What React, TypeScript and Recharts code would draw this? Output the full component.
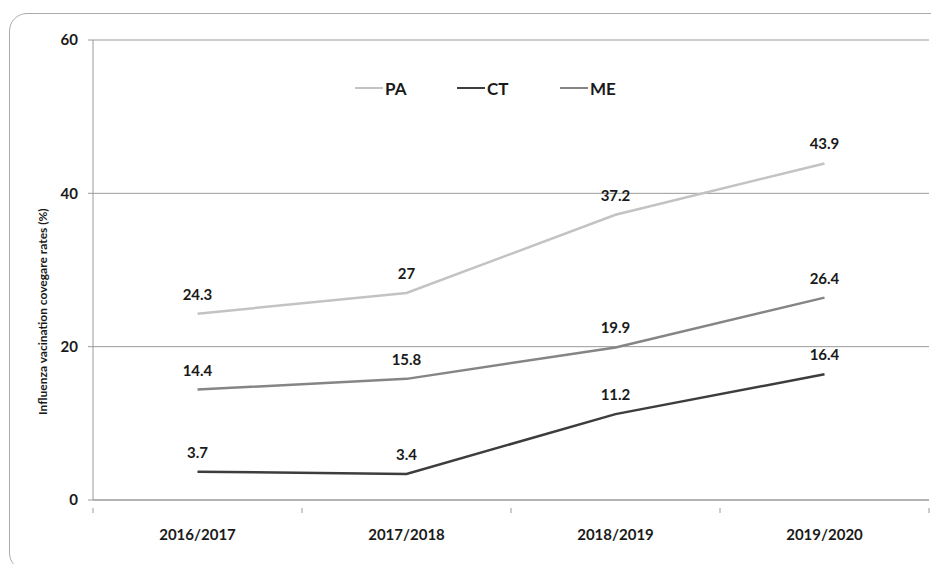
import React from 'react';
import {
  LineChart,
  Line,
  XAxis,
  YAxis,
  CartesianGrid,
  LabelList
} from 'recharts';

const seasons = ['2016/2017', '2017/2018', '2018/2019', '2019/2020'];
const paValues = [24.3, 27, 37.2, 43.9];
const ctValues = [3.7, 3.4, 11.2, 16.4];
const meValues = [14.4, 15.8, 19.9, 26.4];
const yTicks = [0, 20, 40, 60];
const seriesKeys = ['PA', 'CT', 'ME'] as const;

const COLORS = {
  PA: '#c3c3c3',
  CT: '#3d3d3d',
  ME: '#858585'
};

const FONT = 'Lato, "Open Sans", sans-serif';
const AXIS_GRAY = '#9a9a9a';

const chartData = seasons.map((season, i) => ({
  season,
  PA: paValues[i],
  CT: ctValues[i],
  ME: meValues[i]
}));

const SeasonTick = (props: any) => {
  const { x, y, payload, index } = props;
  const half = payload && payload.offset ? payload.offset : 104.5;
  return (
    <g>
      <line x1={x - half} y1={y} x2={x - half} y2={y + 5} stroke={AXIS_GRAY} />
      {index === seasons.length - 1 && (
        <line x1={x + half} y1={y} x2={x + half} y2={y + 5} stroke={AXIS_GRAY} />
      )}
      <text
        x={x}
        y={y + 32}
        textAnchor="middle"
        fontFamily={FONT}
        fontWeight="bold"
        fontSize={15}
        fill="#1a1a1a"
      >
        {payload.value}
      </text>
    </g>
  );
};

// legend drawn outside the chart so it doesn't push the plot down
const ChartLegend = () => (
  <div style={{ position: 'absolute', left: 0, top: 76, width: 939, height: 24, fontFamily: FONT }}>
    {seriesKeys.map((key, i) => (
      <div
        key={key}
        style={{
          position: 'absolute',
          left: [355, 457, 560][i],
          top: 0,
          display: 'flex',
          alignItems: 'center',
          height: 24
        }}
      >
        <span
          style={{
            display: 'inline-block',
            width: 28,
            height: 2,
            background: COLORS[key],
            marginRight: 2
          }}
        />
        <span style={{ fontWeight: 'bold', fontSize: 17, color: '#1a1a1a' }}>{key}</span>
      </div>
    ))}
  </div>
);

const labelStyle = {
  fontFamily: FONT,
  fontWeight: 'bold' as const,
  fontSize: 15,
  fill: '#1a1a1a'
};

export default function App() {
  return (
    <div style={{ position: 'relative', margin: -8, width: 939, height: 572, background: '#fff', overflow: 'hidden' }}>
      <div
        style={{
          position: 'absolute',
          left: 9,
          top: 13,
          width: 980,
          height: 556,
          border: '1.5px solid #ababab',
          borderRadius: 18
        }}
      />
      <div style={{ position: 'absolute', left: 0, top: 0 }}>
        <LineChart
          width={939}
          height={572}
          data={chartData}
          margin={{ top: 40, right: 10, bottom: 0, left: 0 }}
        >
          <CartesianGrid vertical={false} stroke={AXIS_GRAY} />
          <XAxis
            dataKey="season"
            scale="band"
            height={72}
            stroke={AXIS_GRAY}
            tickLine={false}
            tick={<SeasonTick />}
            interval={0}
          />
          <YAxis
            width={93}
            domain={[0, 60]}
            ticks={yTicks}
            stroke={AXIS_GRAY}
            tickSize={5}
            tick={{ fontFamily: FONT, fontWeight: 'bold', fontSize: 15, fill: '#1a1a1a' }}
            tickMargin={10}
            label={{
              value: 'Influenza vacination covegare rates (%)',
              angle: -90,
              position: 'insideLeft',
              dx: 38,
              dy: 145,
              style: { fontFamily: FONT, fontWeight: 'bold', fontSize: 12, fill: '#1a1a1a' }
            }}
          />
          {seriesKeys.map((key) => (
            <Line
              key={key}
              dataKey={key}
              stroke={COLORS[key]}
              strokeWidth={2.5}
              dot={false}
              isAnimationActive={false}
            >
              <LabelList dataKey={key} position="top" offset={14} style={labelStyle} />
            </Line>
          ))}
        </LineChart>
      </div>
      <ChartLegend />
    </div>
  );
}
